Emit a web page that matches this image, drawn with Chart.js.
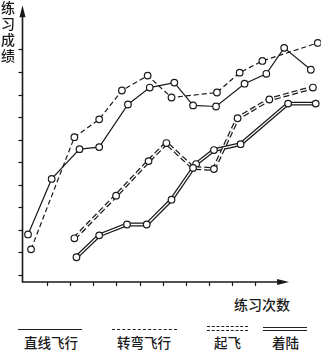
<!DOCTYPE html>
<html lang="zh">
<head>
<meta charset="utf-8">
<title>练习成绩</title>
<script src="https://cdn.jsdelivr.net/npm/chart.js"></script>
<style>
  body { margin: 0; background: #fff; font-family: "Noto Sans CJK SC", sans-serif; color: #1a1a1a; }
  #wrap { position: relative; width: 326px; height: 350px; overflow: hidden; }
  #chartBox { position: absolute; left: 0; top: 0; width: 326px; height: 292px; }
  .txt { position: absolute; font-size: 13.5px; font-weight: 500; white-space: nowrap; line-height: 14px; }
  #ytitle { left: 1px; top: -1px; width: 15px; line-height: 16px; font-size: 14px; white-space: normal; word-break: break-all; }
  .lg { position: absolute; height: 0; }
</style>
</head>
<body>
<div id="wrap">
  <div id="chartBox"><canvas id="c"></canvas></div>
  <div class="txt" id="ytitle">练习成绩</div>
  <div class="txt" style="left:234px; top:297px; font-size:14px;">练习次数</div>

  <div class="lg" style="left:18px; top:329px; width:64px; border-top:1.5px solid #222;"></div>
  <div class="lg" style="left:112px; top:329px; width:65px; border-top:1.5px dashed #222;"></div>
  <div class="lg" style="left:207px; top:326px; width:41px; border-top:1.5px dashed #222;"></div>
  <div class="lg" style="left:207px; top:330px; width:41px; border-top:1.5px dashed #222;"></div>
  <div class="lg" style="left:263px; top:327px; width:44px; border-top:4px double #222;"></div>

  <div class="txt" style="left:24px; top:335px;">直线飞行</div>
  <div class="txt" style="left:117px; top:335px;">转弯飞行</div>
  <div class="txt" style="left:214px; top:335px;">起飞</div>
  <div class="txt" style="left:272px; top:335px;">着陆</div>
</div>

<script>
// x = practice count (tick units), y = score (tick units)
const straightX = [0.19, 1.21, 2.41, 3.26, 4.50, 5.44, 6.50, 7.31, 8.30, 9.53, 10.47, 11.24, 12.39];
const straightY = [2.80, 5.26, 6.58, 6.67, 8.56, 9.31, 9.53, 8.52, 8.47, 9.48, 9.92, 11.07, 10.10];

const turnX = [0.32, 2.19, 3.26, 4.24, 5.35, 6.38, 8.34, 9.32, 10.30, 12.69];
const turnY = [2.14, 7.11, 7.90, 9.18, 9.84, 8.87, 9.09, 9.97, 10.49, 11.29];

const takeoffX = [2.19, 3.99, 5.39, 6.16, 7.31, 8.21, 9.23, 10.60, 12.48];
const takeoffY = [2.63, 4.52, 6.05, 6.85, 5.75, 5.70, 7.95, 8.78, 9.31];

const landX = [2.28, 3.26, 4.46, 5.31, 6.38, 7.44, 8.21, 9.36, 11.41, 12.60];
const landY = [1.79, 2.76, 3.24, 3.24, 4.34, 5.92, 6.54, 6.80, 8.60, 8.60];

const xTicks = [1, 2, 3, 4, 5, 6, 7, 8, 9, 10];
const yTicks = [1, 2, 3, 4, 5, 6, 7, 8, 9, 10, 11];

const pts = (xs, ys) => xs.map((x, i) => ({ x: x, y: ys[i] }));

const ink = '#1a1a1a';
const dot = { pointRadius: 3.3, pointBackgroundColor: '#fff', pointBorderColor: ink, pointBorderWidth: 1.2 };

// Axes with arrows, drawn from the scales
const axesPlugin = {
  id: 'axes',
  beforeDatasetsDraw(chart) {
    const ctx = chart.ctx;
    const xs = chart.scales.x, ys = chart.scales.y;
    const x0 = xs.getPixelForValue(xs.min) + 0.5;
    const y0 = ys.getPixelForValue(ys.min) - 1;
    const yTop = ys.getPixelForValue(ys.max);
    const xEnd = xs.getPixelForValue(11.45);
    ctx.save();
    ctx.strokeStyle = ink;
    ctx.fillStyle = ink;
    ctx.lineWidth = 1.6;
    ctx.beginPath();
    ctx.moveTo(x0, yTop + 8);
    ctx.lineTo(x0, y0);
    ctx.lineTo(xEnd - 8, y0);
    ctx.stroke();
    // arrow heads
    ctx.beginPath();
    ctx.moveTo(x0, yTop);
    ctx.lineTo(x0 - 3, yTop + 12);
    ctx.lineTo(x0 + 3, yTop + 12);
    ctx.closePath();
    ctx.fill();
    ctx.beginPath();
    ctx.moveTo(xEnd, y0);
    ctx.lineTo(xEnd - 12, y0 - 3);
    ctx.lineTo(xEnd - 12, y0 + 3);
    ctx.closePath();
    ctx.fill();
    // ticks
    ctx.lineWidth = 1.2;
    yTicks.forEach(v => {
      const p = Math.round(ys.getPixelForValue(v)) + 0.5;
      ctx.beginPath();
      ctx.moveTo(x0 - 4, p);
      ctx.lineTo(x0, p);
      ctx.stroke();
    });
    xTicks.forEach(v => {
      const p = Math.round(xs.getPixelForValue(v)) + 0.5;
      ctx.beginPath();
      ctx.moveTo(p, y0);
      ctx.lineTo(p, y0 + 4);
      ctx.stroke();
    });
    ctx.restore();
  }
};

new Chart(document.getElementById('c'), {
  type: 'line',
  data: {
    datasets: [
      // index 0 is drawn on top
      Object.assign({ label: '直线飞行', data: pts(straightX, straightY), borderColor: ink, borderWidth: 1.2 }, dot),
      Object.assign({ label: '转弯飞行', data: pts(turnX, turnY), borderColor: ink, borderWidth: 1.2, borderDash: [5, 3] }, dot),
      Object.assign({ label: '起飞', data: pts(takeoffX, takeoffY), borderColor: '#fff', borderWidth: 1.3, borderDash: [6, 3] }, dot),
      { label: '起飞外', data: pts(takeoffX, takeoffY), borderColor: ink, borderWidth: 3.8, borderDash: [6, 3], pointRadius: 0 },
      Object.assign({ label: '着陆', data: pts(landX, landY), borderColor: '#fff', borderWidth: 1.3 }, dot),
      { label: '着陆外', data: pts(landX, landY), borderColor: ink, borderWidth: 3.8, pointRadius: 0 }
    ]
  },
  options: {
    responsive: true,
    maintainAspectRatio: false,
    animation: false,
    layout: { padding: { left: 22, top: 3, right: 2, bottom: 9 } },
    elements: { line: { tension: 0, fill: false, borderCapStyle: 'butt' } },
    plugins: { legend: { display: false }, tooltip: { enabled: false } },
    scales: {
      x: { type: 'linear', display: false, min: -0.07, max: 12.82 },
      y: { type: 'linear', display: false, min: 0.648, max: 12.96 }
    }
  },
  plugins: [axesPlugin]
});
</script>
</body>
</html>
